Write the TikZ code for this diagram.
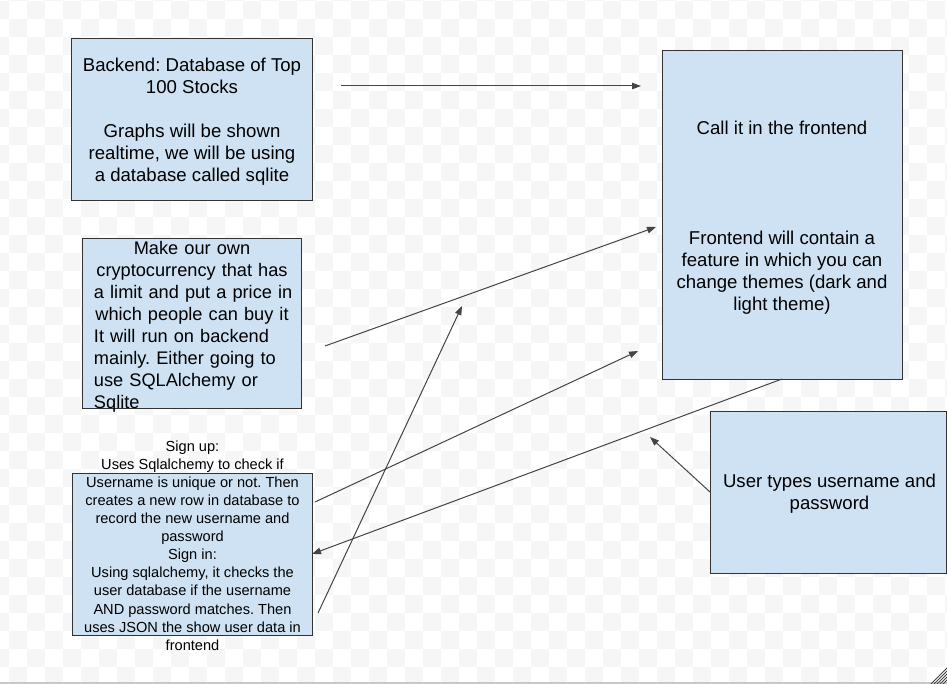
\documentclass[tikz,border=0pt]{standalone}
\usepackage{fontspec}
\setmainfont{Liberation Sans}
\usetikzlibrary{arrows.meta,calc}
\definecolor{boxfill}{HTML}{CFE2F3}
\definecolor{boxline}{HTML}{333333}
\definecolor{arr}{HTML}{444444}
\definecolor{chk}{HTML}{F6F6F6}
\definecolor{edge}{HTML}{C8C8C8}
\frenchspacing
\begin{document}
\begin{tikzpicture}[x=1bp,y=-1bp,
  box/.style={draw=boxline, fill=boxfill, line width=1bp, inner sep=0pt, outer sep=0pt},
  bigtxt/.style={font=\fontsize{18.6bp}{22bp}\selectfont, align=center, inner sep=0pt},
  smalltxt/.style={font=\fontsize{14.6bp}{18.1bp}\selectfont, align=center, inner sep=0pt},
  conn/.style={draw=arr, line width=1bp, -{Triangle[length=9bp,width=6.5bp]}}]
\useasboundingbox (0,0) rectangle (947,684);
\clip (0,0) rectangle (947,684);
\fill[white] (0,0) rectangle (947,684);
% canvas checkerboard
\foreach \j in {0,...,39}{
  \pgfmathtruncatemacro\istart{mod(\j+1,2)}
  \foreach \i in {0,...,26}{
    \fill[chk] ({-9+18*(2*\i+\istart)},{-17+18*\j}) rectangle ++(18,18);
  }
}
\draw[edge, line width=1.5bp] (0,683) -- (947,683);
\foreach \x in {931,934,937,940,943}{
  \draw[arr, line width=0.8bp] (\x,684) -- (947,{684-(947-\x)});
}

% boxes
\node[box, minimum width=240bp, minimum height=162bp] (backend) at (192,119.5) {};
\node[bigtxt] (backendtext) at ($(backend.center)+(0,2.5)$)
  {Backend: Database of Top\\100 Stocks\\[22bp]Graphs will be shown\\realtime, we will be using\\a database called sqlite};

\node[box, minimum width=218bp, minimum height=169bp] (crypto) at (192,323.5) {};
\node[inner sep=0pt, text width=196bp, font=\fontsize{18.2bp}{22bp}\selectfont] (cryptotext)
  at ($(crypto.center)+(0,3)$)
  {\centering \mbox{Make our own}\\\mbox{cryptocurrency that has}\\\mbox{a limit and put a price in}\\\mbox{which people can buy it}\par
   \raggedright It will run on backend\\mainly. Either going to\\use SQLAlchemy or\\Sqlite\par};

\node[box, minimum width=239bp, minimum height=162bp] (signup) at (192.5,554) {};
\node[smalltxt] (signuptext) at (192.5,545.5)
  {Sign up:\\Uses Sqlalchemy to check if\\Username is unique or not. Then\\creates a new row in database to\\record the new username and\\password\\Sign in:\\Using sqlalchemy, it checks the\\user database if the username\\AND password matches. Then\\uses JSON the show user data in\\frontend};

\node[box, minimum width=240bp, minimum height=328bp] (front) at (782,215) {};
\node[bigtxt] (fronttext) at ($(front.center)+(0,2.5)$)
  {Call it in the frontend\\[88bp]Frontend will contain a\\feature in which you can\\change themes (dark and\\light theme)};

\node[box, minimum width=236bp, minimum height=162bp] (user) at (828,492) {};
\node[bigtxt] (usertext) at ($(user.center)+(1.5,2)$)
  {User types username and\\password};

% connector end points
\coordinate (a1s) at (341,86);
\coordinate (a1e) at (641,86);
\coordinate (a2s) at (325,346);
\coordinate (a2e) at (656,227);
\coordinate (a3s) at (318,613);
\coordinate (a3e) at (462,306);
\coordinate (a4s) at (315,502);
\coordinate (a4e) at (638,351);
\coordinate (a6e) at (650,437);

\draw[conn] (a1s) -- (a1e);
\draw[conn] (a2s) -- (a2e);
\draw[conn] (a3s) -- (a3e);
\draw[conn] (a4s) -- (a4e);
\draw[conn] (front.south) -- (signup.east);
\draw[conn] (user.west) -- (a6e);
\end{tikzpicture}
\end{document}
